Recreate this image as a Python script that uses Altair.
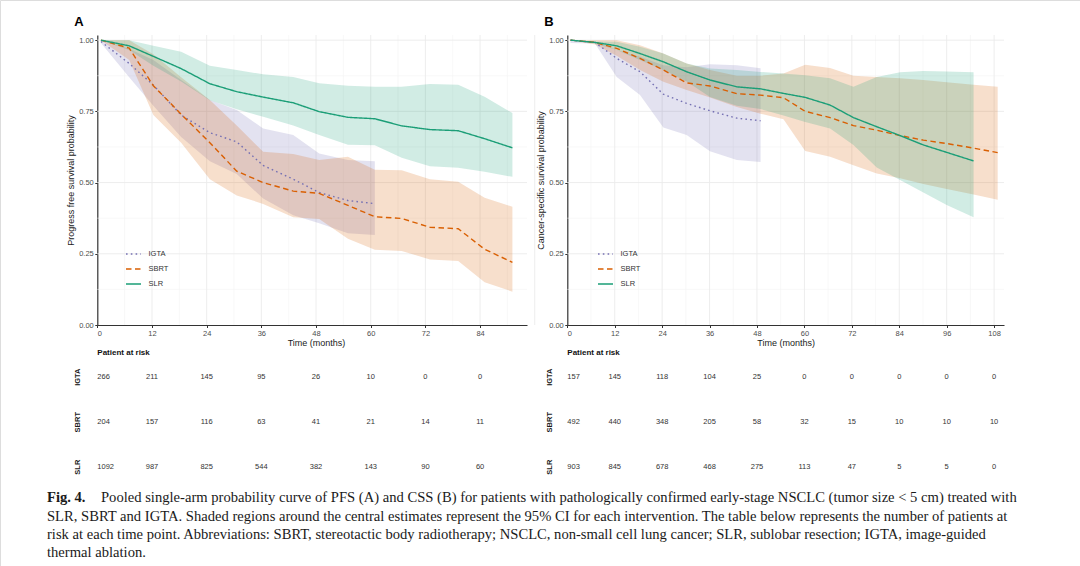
import altair as alt
import pandas as pd

# ---------------------------------------------------------------- groups / style
groups = ["IGTA", "SBRT", "SLR"]
colors = ["#7570B3", "#D95F02", "#1B9E77"]
dashes = [[1.6, 3.2], [5.5, 3.5], [1, 0]]

# ---------------------------------------------------------------- panel A (PFS)
time_a = [0.8, 7.0, 12.3, 18.4, 24.7, 30.6, 36.4, 43.0, 48.7, 55.0, 60.9,
          66.8, 73.0, 79.2, 85.0, 91.1]

igta_a_est = [0.995, 0.918, 0.842, 0.737, 0.675, 0.643, 0.560, 0.512, 0.465, 0.437, 0.426]
igta_a_lo = [0.990, 0.870, 0.770, 0.660, 0.575, 0.530, 0.444, 0.385, 0.357, 0.322, 0.316]
igta_a_hi = [1.000, 0.970, 0.930, 0.860, 0.790, 0.755, 0.690, 0.667, 0.602, 0.579, 0.575]

sbrt_a_est = [1.000, 0.972, 0.840, 0.740, 0.640, 0.540, 0.500, 0.470, 0.462, 0.420, 0.380,
              0.374, 0.343, 0.338, 0.266, 0.220]
sbrt_a_lo = [1.000, 0.930, 0.737, 0.640, 0.512, 0.455, 0.425, 0.378, 0.372, 0.303, 0.264,
             0.260, 0.230, 0.225, 0.150, 0.117]
sbrt_a_hi = [1.000, 1.000, 0.950, 0.870, 0.790, 0.700, 0.608, 0.600, 0.579, 0.591, 0.545,
             0.543, 0.512, 0.503, 0.447, 0.415]

slr_a_est = [1.000, 0.980, 0.943, 0.900, 0.847, 0.819, 0.800, 0.780, 0.749, 0.729, 0.724,
             0.699, 0.686, 0.682, 0.654, 0.622]
slr_a_lo = [1.000, 0.965, 0.910, 0.855, 0.789, 0.757, 0.731, 0.700, 0.667, 0.633, 0.631,
            0.587, 0.557, 0.552, 0.538, 0.520]
slr_a_hi = [1.000, 1.000, 0.980, 0.959, 0.910, 0.895, 0.880, 0.871, 0.849, 0.840, 0.836,
            0.836, 0.846, 0.843, 0.801, 0.744]

# ---------------------------------------------------------------- panel B (CSS)
time_b = [0.8, 7.0, 12.5, 18.4, 24.3, 30.2, 36.1, 42.9, 48.9, 54.7, 60.2, 66.5,
          72.4, 78.3, 84.2, 90.1, 96.0, 102.8, 108.9]

igta_b_est = [1.000, 0.992, 0.936, 0.889, 0.810, 0.778, 0.752, 0.726, 0.717]
igta_b_lo = [0.990, 0.988, 0.871, 0.807, 0.693, 0.667, 0.610, 0.579, 0.572]
igta_b_hi = [1.000, 0.995, 0.965, 0.942, 0.912, 0.905, 0.915, 0.912, 0.901]

sbrt_b_est = [1.000, 0.992, 0.971, 0.936, 0.895, 0.850, 0.839, 0.812, 0.807, 0.798, 0.750,
              0.728, 0.700, 0.684, 0.665, 0.649, 0.637, 0.621, 0.605]
sbrt_b_lo = [1.000, 0.985, 0.945, 0.895, 0.854, 0.825, 0.799, 0.765, 0.742, 0.722, 0.611,
             0.591, 0.561, 0.532, 0.515, 0.495, 0.477, 0.458, 0.440]
sbrt_b_hi = [1.000, 1.000, 1.000, 0.982, 0.953, 0.918, 0.895, 0.875, 0.875, 0.883, 0.914,
             0.902, 0.875, 0.871, 0.866, 0.860, 0.852, 0.843, 0.836]

slr_b_est = [1.000, 0.992, 0.980, 0.953, 0.924, 0.889, 0.860, 0.836, 0.829, 0.813, 0.799,
             0.772, 0.728, 0.696, 0.665, 0.632, 0.606, 0.576]
slr_b_lo = [1.000, 0.988, 0.965, 0.930, 0.895, 0.855, 0.800, 0.770, 0.758, 0.735, 0.713,
            0.690, 0.632, 0.553, 0.509, 0.465, 0.421, 0.378]
slr_b_hi = [1.000, 0.995, 0.994, 0.977, 0.953, 0.918, 0.900, 0.895, 0.888, 0.883, 0.877,
            0.866, 0.836, 0.871, 0.887, 0.892, 0.890, 0.887]

# ---------------------------------------------------------------- patients at risk
risk_a_times = [0, 12, 24, 36, 48, 60, 72, 84]
risk_a_igta = [266, 211, 145, 95, 26, 10, 0, 0]
risk_a_sbrt = [204, 157, 116, 63, 41, 21, 14, 11]
risk_a_slr = [1092, 987, 825, 544, 382, 143, 90, 60]

risk_b_times = [0, 12, 24, 36, 48, 60, 72, 84, 96, 108]
risk_b_igta = [157, 145, 118, 104, 25, 0, 0, 0, 0, 0]
risk_b_sbrt = [492, 440, 348, 205, 58, 32, 15, 10, 10, 10]
risk_b_slr = [903, 845, 678, 468, 275, 113, 47, 5, 5, 0]

# ---------------------------------------------------------------- caption
caption_head = "Fig. 4."
caption_first = ("Pooled single-arm probability curve of PFS (A) and CSS (B) for patients with "
                 "pathologically confirmed early-stage NSCLC (tumor size < 5 cm) treated with")
caption_rest = [
    "SLR, SBRT and IGTA. Shaded regions around the central estimates represent the 95% CI "
    "for each intervention. The table below represents the number of patients at",
    "risk at each time point. Abbreviations: SBRT, stereotactic body radiotherapy; NSCLC, "
    "non-small cell lung cancer; SLR, sublobar resection; IGTA, image-guided",
    "thermal ablation.",
]


def curve_frame(times, table):
    rows = []
    for g in groups:
        est, lo, hi = table[g]
        for t, s, a, b in zip(times, est, lo, hi):
            rows.append({"grp": g, "t": t, "s": s, "lo": a, "hi": b})
    return pd.DataFrame(rows)


def risk_frame(times, table):
    rows = []
    for g in groups:
        for t, n in zip(times, table[g]):
            rows.append({"grp": g, "t": t, "n": n})
    return pd.DataFrame(rows)


curves_a = curve_frame(time_a, {
    "IGTA": (igta_a_est, igta_a_lo, igta_a_hi),
    "SBRT": (sbrt_a_est, sbrt_a_lo, sbrt_a_hi),
    "SLR": (slr_a_est, slr_a_lo, slr_a_hi),
})
curves_b = curve_frame(time_b, {
    "IGTA": (igta_b_est, igta_b_lo, igta_b_hi),
    "SBRT": (sbrt_b_est, sbrt_b_lo, sbrt_b_hi),
    "SLR": (slr_b_est, slr_b_lo, slr_b_hi),
})
risk_a = risk_frame(risk_a_times, {"IGTA": risk_a_igta, "SBRT": risk_a_sbrt, "SLR": risk_a_slr})
risk_b = risk_frame(risk_b_times, {"IGTA": risk_b_igta, "SBRT": risk_b_sbrt, "SLR": risk_b_slr})

# ---------------------------------------------------------------- canvas layout
W, H = 1080, 566
Y_TOP = 1.018
PLOT_BOTTOM, PLOT_TOP = 325, 35
SANS = "Liberation Sans"
SERIF = "Liberation Serif"
CAPTION_SIZE = 14.6

y_surv = alt.Scale(domain=[0, Y_TOP], range=[PLOT_BOTTOM, PLOT_TOP], nice=False, zero=False)
y_table = alt.Scale(type="point", domain=groups, range=[376.7, 466.7], padding=0)
color_scale = alt.Scale(domain=groups, range=colors)
dash_scale = alt.Scale(domain=groups, range=dashes)

axis_style = dict(
    domainColor="#333333", domainWidth=1.2, tickColor="#333333", tickSize=2.5,
    tickWidth=1, labelColor="#4d4d4d", labelFontSize=7.5, labelFont=SANS,
    labelPadding=1.5, titleFont=SANS, titleFontSize=9, titleFontWeight="normal",
    titleColor="#1a1a1a", grid=False,
)


def panel(curves, risk, x_max, x_range, x_ticks, y_title, legend_x, letter,
          letter_x, row_label_x, title_x):
    xs = alt.Scale(domain=[0, x_max], range=x_range, nice=False, zero=False)
    x_end = max(curves["t"])
    minor_x = [m for m in range(6, int(x_end) + 6, 6) if m % 12]
    major_x = [m for m in range(12, int(x_end) + 6, 12)]
    minor_y = [0.125, 0.375, 0.625, 0.875]
    major_y = [0.25, 0.5, 0.75, 1.0]
    layers = []

    # grid: minor then major lines, the major ones carry the axes
    layers.append(
        alt.Chart(pd.DataFrame({"m": minor_x})).mark_rule(color="#f3f3f3", strokeWidth=0.6)
        .encode(x=alt.X("m:Q", scale=xs, axis=None),
                y=alt.YDatum(0, scale=y_surv, axis=None), y2=alt.Y2Datum(Y_TOP))
    )
    layers.append(
        alt.Chart(pd.DataFrame({"v": minor_y})).mark_rule(color="#f3f3f3", strokeWidth=0.6)
        .encode(y=alt.Y("v:Q", scale=y_surv, axis=None),
                x=alt.XDatum(0, scale=xs, axis=None), x2=alt.X2Datum(x_max))
    )
    layers.append(
        alt.Chart(pd.DataFrame({"m": major_x})).mark_rule(color="#ebebeb", strokeWidth=0.9)
        .encode(
            x=alt.X("m:Q", scale=xs, axis=alt.Axis(
                orient="bottom", offset=PLOT_BOTTOM - H, values=x_ticks,
                title="Time (months)", titlePadding=1.5, titleX=title_x, **axis_style)),
            y=alt.YDatum(0, scale=y_surv, axis=None), y2=alt.Y2Datum(Y_TOP))
    )
    layers.append(
        alt.Chart(pd.DataFrame({"v": major_y})).mark_rule(color="#ebebeb", strokeWidth=0.9)
        .encode(
            y=alt.Y("v:Q", scale=y_surv, axis=alt.Axis(
                orient="left", offset=-x_range[0], values=[0, 0.25, 0.5, 0.75, 1.0],
                format=".2f", title=y_title, titlePadding=3, **axis_style)),
            x=alt.XDatum(0, scale=xs, axis=None), x2=alt.X2Datum(x_max))
    )

    # 95% CI bands
    layers.append(
        alt.Chart(curves).mark_area(fillOpacity=0.2, strokeWidth=0)
        .encode(x=alt.X("t:Q", scale=xs, axis=None),
                y=alt.Y("lo:Q", scale=y_surv, axis=None, stack=None),
                y2="hi:Q",
                color=alt.Color("grp:N", scale=color_scale, legend=None))
    )

    # central estimates
    legend = alt.Legend(
        orient="none", legendX=legend_x, legendY=245.5, title=None, symbolType="stroke",
        symbolSize=225, symbolStrokeWidth=1.4, labelFont=SANS, labelFontSize=7.5,
        labelColor="#333333", labelOffset=6.5, rowPadding=3, padding=0)
    layers.append(
        alt.Chart(curves).mark_line(strokeWidth=1.4)
        .encode(x=alt.X("t:Q", scale=xs, axis=None),
                y=alt.Y("s:Q", scale=y_surv, axis=None),
                color=alt.Color("grp:N", scale=color_scale, legend=legend),
                strokeDash=alt.StrokeDash("grp:N", scale=dash_scale, legend=legend))
    )

    # patients-at-risk table
    text_style = dict(font=SANS, fontSize=7.5, color="#333333", baseline="middle")
    layers.append(
        alt.Chart(risk).transform_filter("datum.t == 0")
        .mark_text(align="left", **text_style)
        .encode(x=alt.X("t:Q", scale=xs, axis=None),
                y=alt.Y("grp:N", scale=y_table, axis=alt.Axis(
                    orient="left", offset=-row_label_x, domain=False, ticks=False,
                    tickSize=0, labelAngle=270, labelAlign="center",
                    labelBaseline="middle", labelPadding=0, labelFont=SANS,
                    labelFontSize=7.5, labelFontWeight="bold", labelColor="#1a1a1a",
                    title=None, grid=False)),
                text="n:Q")
    )
    layers.append(
        alt.Chart(risk).transform_filter("datum.t > 0")
        .mark_text(align="center", **text_style)
        .encode(x=alt.X("t:Q", scale=xs, axis=None),
                y=alt.Y("grp:N", scale=y_table, axis=None),
                text="n:Q")
    )
    layers.append(
        alt.Chart(pd.DataFrame({"label": ["Patient at risk"]}))
        .mark_text(align="left", baseline="middle", font=SANS, fontSize=8,
                   fontWeight="bold", color="#111111")
        .encode(x=alt.XDatum(0, scale=xs, axis=None), y=alt.value(352.7), text="label:N")
    )

    # panel letter
    layers.append(
        alt.Chart(pd.DataFrame({"label": [letter]}))
        .mark_text(align="center", baseline="middle", font=SANS, fontSize=13,
                   fontWeight="bold", color="#000000")
        .encode(x=alt.value(letter_x), y=alt.value(21.7), text="label:N")
    )
    return layers


layers_a = panel(curves_a, risk_a, 94.3, [97.3, 527], risk_a_times,
                 "Progress free survival probability", 125, "A", 79, 77.3, 316)
layers_b = panel(curves_b, risk_b, 110.5, [567.3, 1004], risk_b_times,
                 "Cancer-specific survival probability", 597, "B", 549, 549.3, 785.6)

# ---------------------------------------------------------------- caption text
caption_layers = [
    alt.Chart(pd.DataFrame({"txt": [caption_head]}))
    .mark_text(align="left", baseline="middle", font=SERIF, fontSize=CAPTION_SIZE,
               fontWeight="bold", color="#1a1a1a")
    .encode(x=alt.value(47), y=alt.value(498), text="txt:N"),
    alt.Chart(pd.DataFrame({"txt": [caption_first]}))
    .mark_text(align="left", baseline="middle", font=SERIF, fontSize=CAPTION_SIZE,
               color="#1a1a1a")
    .encode(x=alt.value(101), y=alt.value(498), text="txt:N"),
    alt.Chart(pd.DataFrame({"txt": caption_rest, "line": [1, 2, 3]}))
    .mark_text(align="left", baseline="middle", font=SERIF, fontSize=CAPTION_SIZE,
               color="#1a1a1a")
    .encode(x=alt.value(47),
            y=alt.Y("line:O", scale=alt.Scale(type="point", domain=[1, 2, 3],
                                              range=[516.5, 553], padding=0), axis=None),
            text="txt:N"),
]

chart = (
    alt.layer(*layers_a, *layers_b, *caption_layers)
    .resolve_scale(x="independent", y="independent", color="independent",
                   strokeDash="independent")
    .properties(width=W, height=H, padding=0,
                autosize=alt.AutoSizeParams(type="none"), background="white")
    .configure_view(stroke=None)
    .configure(font=SANS)
)

chart.save("out.html", embed_options={"renderer": "svg", "actions": False})
